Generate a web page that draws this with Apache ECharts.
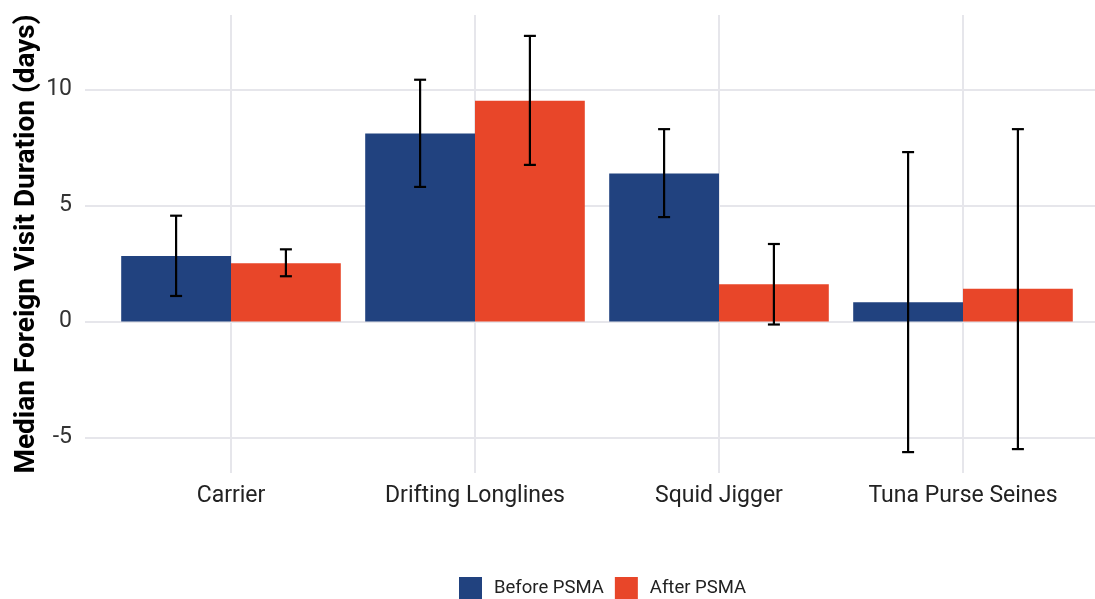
<!DOCTYPE html>
<html>
<head>
<meta charset="utf-8">
<script src="https://cdn.jsdelivr.net/npm/echarts@6/dist/echarts.min.js"></script>
<style>
html,body{margin:0;padding:0;background:#fff;}
#chart{width:1095px;height:599px;}
</style>
</head>
<body>
<div id="chart"></div>
<script>
const categories = ['Carrier', 'Drifting Longlines', 'Squid Jigger', 'Tuna Purse Seines'];
const beforeValues = [2.82, 8.10, 6.38, 0.83];
const afterValues = [2.51, 9.51, 1.61, 1.41];
const beforeLow = [1.10, 5.80, 4.50, -5.63];
const beforeHigh = [4.56, 10.42, 8.29, 7.30];
const afterLow = [1.95, 6.75, -0.13, -5.50];
const afterHigh = [3.11, 12.31, 3.34, 8.29];
const yTicks = [-5, 0, 5, 10];

const yMin = -6.53, yMax = 13.21;
const fontFamily = 'Roboto, "Noto Sans", sans-serif';
const gridColor = '#e6e6eb';

const panelTop = 15, panelBottom = 126;

function errData(low, high) {
  return categories.map((c, i) => [i, low[i], high[i]]);
}

function makeErr(side) {
  return function (params, api) {
    const idx = api.value(0);
    const lo = api.coord([idx, api.value(1)]);
    const hi = api.coord([idx, api.value(2)]);
    const band = api.size([1, 0])[0];
    const x = lo[0] + side * band * 0.225;
    const cap = 6;
    const style = { stroke: '#000', lineWidth: 2.2 };
    return {
      type: 'group',
      children: [
        { type: 'line', shape: { x1: x, y1: hi[1], x2: x, y2: lo[1] }, style },
        { type: 'line', shape: { x1: x - cap, y1: hi[1], x2: x + cap, y2: hi[1] }, style },
        { type: 'line', shape: { x1: x - cap, y1: lo[1], x2: x + cap, y2: lo[1] }, style }
      ]
    };
  };
}

const chart = echarts.init(document.getElementById('chart'), null, { renderer: 'canvas' });
chart.setOption({
  animation: false,
  backgroundColor: '#fff',
  textStyle: { fontFamily },
  grid: [
    { left: 85, width: 1024, top: panelTop, bottom: panelBottom },
    { left: 109, right: 10, top: panelTop, bottom: panelBottom }
  ],
  legend: {
    data: ['Before PSMA', 'After PSMA'],
    left: 459, top: 577, padding: 0,
    icon: 'rect',
    itemWidth: 23, itemHeight: 23,
    itemGap: 11,
    textStyle: { fontSize: 18.5, color: '#222', fontFamily, padding: [0, 0, 0, 7] }
  },
  xAxis: [
    { gridIndex: 0, type: 'value', min: 0, max: 1, show: false },
    {
      gridIndex: 1, type: 'category', data: categories, boundaryGap: true,
      axisLine: { show: false }, axisTick: { show: false }, splitLine: { show: false },
      axisLabel: { fontSize: 23, color: '#222', margin: 12, fontFamily, interval: 0 }
    }
  ],
  yAxis: [
    {
      gridIndex: 0, type: 'value', min: yMin, max: yMax,
      splitNumber: 4, minInterval: 5, maxInterval: 5,
      axisLine: { show: false }, axisTick: { show: false },
      axisLabel: {
        fontSize: 23, color: '#333', margin: 13, fontFamily,
        showMinLabel: false, showMaxLabel: false,
        formatter: v => {
          const r = Math.round(v * 100) / 100;
          return yTicks.indexOf(r) >= 0 ? String(r) : '';
        }
      },
      splitLine: { show: true, showMinLine: false, showMaxLine: false, lineStyle: { color: gridColor, width: 2 } }
    },
    {
      gridIndex: 1, type: 'value', min: yMin, max: yMax,
      axisLine: { show: false }, axisTick: { show: false }, axisLabel: { show: false },
      splitLine: { show: false },
      name: 'Median Foreign Visit Duration (days)',
      nameLocation: 'middle', nameGap: 68, nameRotate: 90,
      nameTextStyle: { fontSize: 28, fontWeight: 'bold', color: '#000', fontFamily }
    }
  ],
  series: [
    {
      name: '_grid', type: 'line', xAxisIndex: 1, yAxisIndex: 1, data: [null, null, null, null],
      z: 0, silent: true, showSymbol: false,
      markLine: {
        z: 0,
        silent: true, symbol: 'none', label: { show: false },
        lineStyle: { color: gridColor, width: 2, type: 'solid' },
        data: categories.map(c => ({ xAxis: c }))
      }
    },
    {
      name: 'Before PSMA', type: 'bar', xAxisIndex: 1, yAxisIndex: 1, data: beforeValues,
      itemStyle: { color: '#21427f' }, barGap: '0%', barCategoryGap: '10%', z: 3
    },
    {
      name: 'After PSMA', type: 'bar', xAxisIndex: 1, yAxisIndex: 1, data: afterValues,
      itemStyle: { color: '#e84629' }, barGap: '0%', barCategoryGap: '10%', z: 3
    },
    {
      name: 'errBefore', type: 'custom', xAxisIndex: 1, yAxisIndex: 1,
      data: errData(beforeLow, beforeHigh), renderItem: makeErr(-1), z: 10, silent: true
    },
    {
      name: 'errAfter', type: 'custom', xAxisIndex: 1, yAxisIndex: 1,
      data: errData(afterLow, afterHigh), renderItem: makeErr(1), z: 10, silent: true
    }
  ]
});
</script>
</body>
</html>
